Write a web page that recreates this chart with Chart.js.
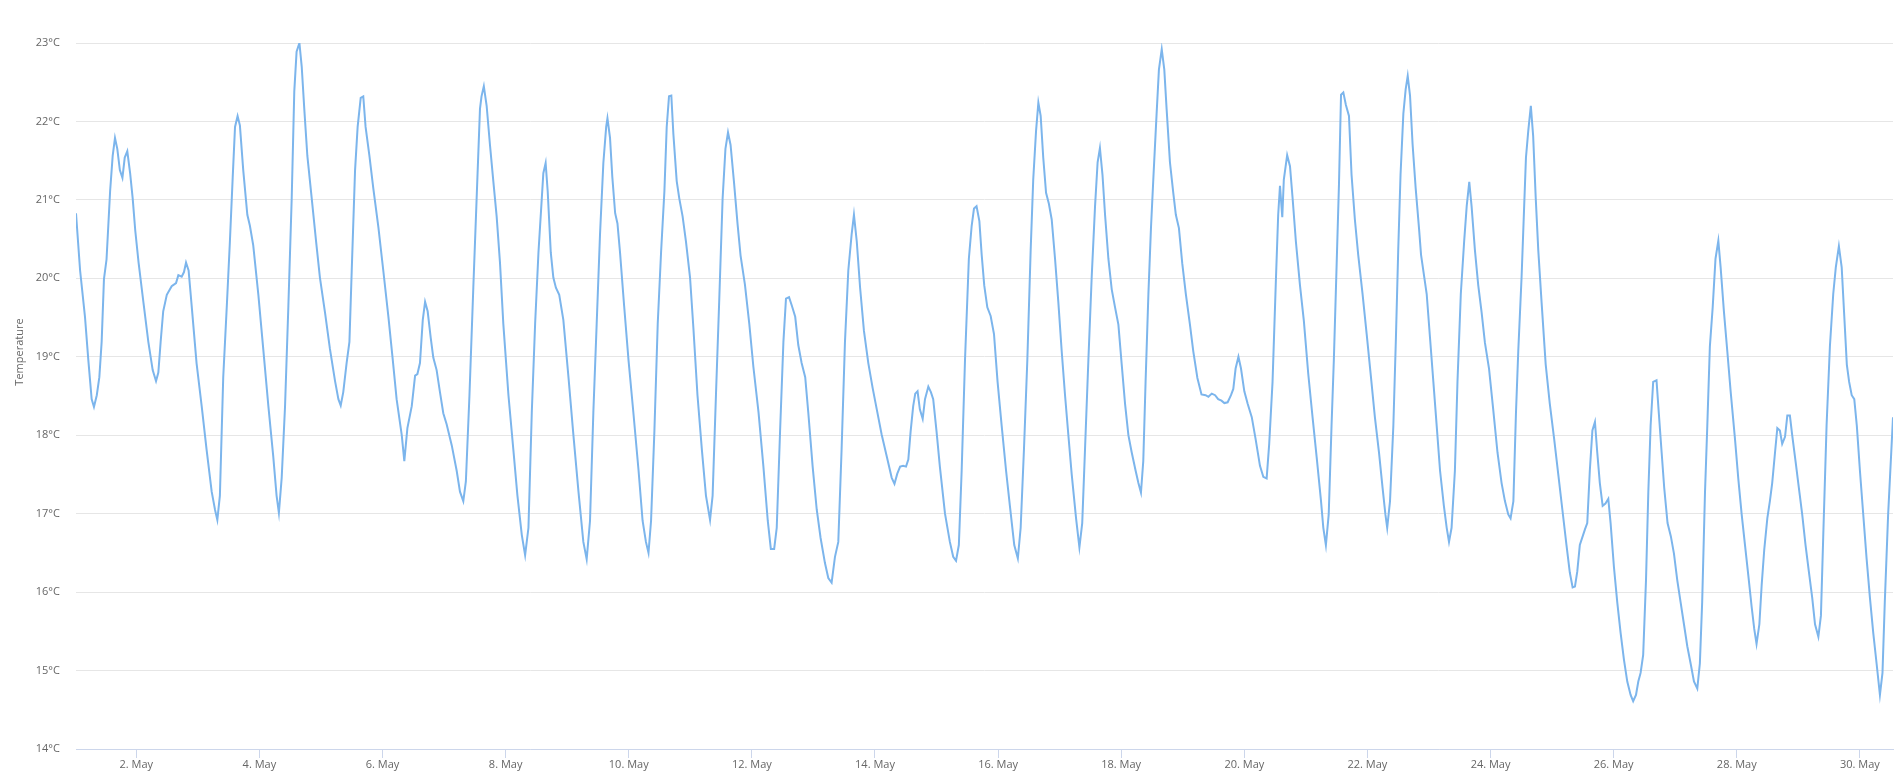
<!DOCTYPE html>
<html>
<head>
<meta charset="utf-8">
<script src="https://cdn.jsdelivr.net/npm/chart.js@4/dist/chart.umd.min.js"></script>
<style>
  html, body { margin: 0; padding: 0; background: #fff; }
  #wrap { width: 1904px; height: 780px; position: relative; }
</style>
</head>
<body>
<div id="wrap"><canvas id="tempChart"></canvas></div>
<script>
// hours since 1 May 00:00
const hours = [
  0.5, 2.1, 4.0, 5.3, 6.6, 7.5, 8.6, 9.6, 10.5, 11.4,
  12.4, 13.8, 14.8, 15.7, 16.6, 17.6, 18.6, 19.5, 20.5, 21.6,
  22.6, 23.6, 24.9, 26.8, 28.7, 30.4, 31.7, 32.6, 33.5, 34.5,
  35.9, 37.8, 39.5, 40.4, 41.7, 42.6, 43.4, 44.4, 45.6, 47.5,
  49.5, 51.4, 53.4, 54.7, 55.6, 56.6, 57.9, 59.3, 60.5, 61.6,
  62.5, 63.5, 64.4, 65.7, 67.3, 68.3, 69.6, 71.6, 73.5, 75.5,
  77.4, 78.7, 79.6, 80.7, 82.0, 83.3, 84.6, 85.6, 86.5, 87.6,
  88.5, 89.5, 90.7, 92.4, 94.1, 95.6, 97.6, 99.5, 101.5, 102.8,
  103.7, 104.7, 106.0, 107.1, 108.0, 109.3, 110.3, 111.5, 112.5, 113.4,
  114.9, 116.4, 118.4, 120.3, 122.3, 124.0, 125.5, 127.5, 128.5, 129.7,
  131.4, 132.7, 133.6, 134.6, 135.7, 136.6, 137.6, 138.8, 139.8, 141.1,
  142.4, 143.7, 145.0, 147.0, 148.9, 150.2, 151.5, 152.5, 153.9, 155.4,
  156.7, 158.0, 158.6, 159.5, 160.6, 161.9, 163.2, 164.5, 165.8, 167.1,
  169.1, 171.0, 172.6, 174.3, 175.6, 176.9, 178.2, 179.5, 180.8, 182.1,
  182.7, 183.6, 184.4, 185.6, 186.6, 187.6, 188.9, 190.5, 192.5, 194.4,
  196.4, 198.3, 199.6, 200.9, 202.2, 203.5, 204.8, 206.1, 207.2, 207.7,
  208.7, 209.6, 210.7, 211.6, 212.6, 214.2, 215.9, 217.8, 219.8, 221.4,
  222.7, 223.7, 224.7, 226.0, 227.3, 228.6, 229.9, 230.8, 231.7, 232.6,
  233.4, 234.7, 235.7, 237.0, 238.3, 239.9, 241.2, 242.8, 244.5, 246.1,
  247.7, 248.7, 250.0, 251.3, 252.6, 253.7, 254.7, 255.7, 257.0, 258.4,
  259.6, 261.3, 263.0, 264.6, 266.6, 268.5, 270.2, 271.4, 272.7, 273.7,
  275.0, 276.3, 277.3, 278.5, 279.6, 280.9, 282.1, 283.4, 284.8, 286.0,
  287.7, 289.3, 290.8, 292.5, 293.8, 295.1, 296.4, 297.7, 299.0, 300.3,
  301.6, 302.9, 303.8, 304.9, 306.2, 307.7, 309.4, 311.1, 312.7, 314.6,
  316.6, 318.5, 319.6, 320.7, 321.8, 323.0, 324.1, 325.0, 325.9, 326.9,
  327.7, 328.6, 329.5, 330.6, 331.5, 332.8, 333.8, 334.7, 336.0, 337.3,
  339.3, 341.2, 342.5, 343.6, 344.7, 345.8, 347.1, 348.6, 349.7, 350.6,
  351.6, 352.7, 353.6, 354.6, 355.8, 357.1, 358.4, 359.8, 361.4, 363.1,
  364.6, 366.3, 367.7, 368.8, 370.1, 371.4, 372.7, 373.7, 374.8, 375.7,
  376.6, 377.6, 378.7, 379.8, 380.9, 382.2, 383.5, 384.8, 386.1, 387.4,
  388.7, 390.4, 391.7, 392.8, 393.9, 395.2, 396.5, 397.8, 398.8, 399.7,
  400.7, 401.7, 403.0, 404.3, 405.6, 406.9, 408.2, 409.5, 410.8, 412.1,
  413.6, 414.7, 415.7, 416.6, 417.5, 418.6, 419.6, 420.6, 421.8, 422.7,
  423.8, 424.8, 425.7, 427.0, 428.3, 429.3, 430.5, 431.8, 433.2, 434.8,
  436.1, 437.7, 439.3, 440.9, 442.0, 443.3, 444.6, 445.8, 447.1, 448.2,
  449.5, 450.8, 451.7, 452.6, 453.7, 454.7, 456.0, 457.3, 458.9, 460.4,
  462.1, 463.4, 464.7, 465.7, 467.0, 468.3, 469.2, 469.9, 470.8, 471.4,
  472.7, 473.8, 474.8, 476.1, 477.7, 479.2, 480.9, 482.6, 484.2, 485.9,
  486.8, 487.8, 488.9, 490.0, 490.9, 492.0, 492.9, 493.7, 494.6, 495.6,
  496.8, 497.8, 499.1, 500.4, 502.1, 503.7, 505.4, 506.9, 508.5, 509.9,
  511.0, 511.7, 512.8, 514.1, 515.1, 516.0, 516.9, 518.0, 518.9, 519.7,
  520.6, 521.6, 522.8, 524.1, 524.9, 527.1, 528.4, 529.7, 531.0, 532.3,
  533.8, 534.9, 535.8, 536.8, 538.1, 539.1, 540.4, 541.7, 542.7, 543.7,
  544.6, 545.9, 547.2, 548.5, 549.8, 551.4, 553.0, 554.7, 556.3, 557.6,
  558.9, 559.8, 560.9, 561.9, 562.8, 564.1, 565.1, 565.8, 566.7, 567.7,
  568.6, 569.6, 570.6, 571.9, 573.5, 575.1, 576.8, 578.4, 580.0, 581.6,
  582.9, 584.0, 584.9, 585.8, 586.8, 587.9, 588.8, 589.7, 590.7, 591.7,
  592.7, 593.6, 594.6, 595.7, 596.8, 597.9, 598.8, 600.1, 601.4, 602.7,
  604.0, 605.3, 606.6, 607.6, 608.7, 609.6, 610.5, 611.5, 612.6, 613.5,
  614.4, 615.4, 616.7, 617.6, 618.7, 619.7, 621.0, 622.3, 623.5, 624.8,
  626.1, 627.4, 628.7, 630.0, 631.3, 632.6, 633.6, 634.5, 635.6, 636.5,
  637.5, 638.6, 639.7, 640.8, 641.7, 643.0, 644.3, 645.6, 647.3, 648.6,
  649.9, 651.2, 652.5, 653.8, 654.8, 655.7, 656.8, 657.7, 658.7, 659.9,
  660.9, 661.8, 662.9, 663.8, 664.8, 665.7, 666.8, 667.7, 668.7, 669.6,
  670.9, 672.2, 673.5, 674.8, 676.1, 677.4, 678.5, 679.8, 680.8, 681.7,
  683.0, 684.3, 685.6, 686.6, 687.8, 688.9, 689.9, 690.9, 691.8, 692.8,
  693.8, 694.8, 696.0, 697.3, 698.6, 699.9, 701.2, 702.5, 703.8, 704.8,
  705.7, 707.0, 708.9
];

const temps = [
  20.83, 20.10, 19.51, 18.96, 18.46, 18.36, 18.51, 18.74, 19.19, 19.99,
  20.24, 21.11, 21.56, 21.79, 21.65, 21.38, 21.28, 21.54, 21.62, 21.34,
  21.02, 20.61, 20.20, 19.69, 19.19, 18.83, 18.69, 18.80, 19.19, 19.58,
  19.79, 19.90, 19.94, 20.04, 20.02, 20.08, 20.20, 20.10, 19.65, 18.92,
  18.37, 17.82, 17.28, 17.05, 16.92, 17.23, 18.74, 19.65, 20.47, 21.29,
  21.93, 22.07, 21.95, 21.38, 20.81, 20.67, 20.42, 19.79, 19.10, 18.37,
  17.73, 17.23, 17.01, 17.46, 18.37, 19.65, 21.02, 22.38, 22.89, 23.00,
  22.70, 22.16, 21.56, 21.02, 20.47, 20.01, 19.56, 19.10, 18.69, 18.46,
  18.38, 18.55, 18.92, 19.19, 20.10, 21.38, 21.93, 22.30, 22.32, 21.93,
  21.56, 21.15, 20.65, 20.10, 19.51, 18.96, 18.46, 18.00, 17.67, 18.09,
  18.37, 18.76, 18.78, 18.92, 19.47, 19.70, 19.58, 19.24, 18.99, 18.83,
  18.55, 18.28, 18.14, 17.87, 17.55, 17.28, 17.16, 17.41, 18.51, 19.88,
  21.02, 22.16, 22.32, 22.45, 22.20, 21.70, 21.24, 20.79, 20.20, 19.42,
  18.51, 17.82, 17.23, 16.73, 16.47, 16.82, 18.29, 19.42, 20.33, 21.02,
  21.34, 21.47, 21.11, 20.33, 20.01, 19.88, 19.79, 19.47, 18.74, 18.01,
  17.28, 16.64, 16.42, 16.91, 18.29, 19.42, 20.56, 21.47, 21.93, 22.04,
  21.79, 21.29, 20.83, 20.70, 20.33, 19.65, 18.96, 18.29, 17.56, 16.91,
  16.64, 16.50, 16.91, 18.05, 19.42, 20.33, 21.11, 21.93, 22.32, 22.33,
  21.84, 21.24, 21.02, 20.79, 20.47, 20.01, 19.37, 18.51, 17.82, 17.23,
  16.92, 17.23, 18.51, 19.74, 21.02, 21.65, 21.86, 21.70, 21.24, 20.70,
  20.29, 19.92, 19.42, 18.87, 18.29, 17.60, 16.91, 16.55, 16.55, 16.82,
  18.05, 19.19, 19.74, 19.76, 19.65, 19.51, 19.15, 18.92, 18.74, 18.29,
  17.60, 17.05, 16.69, 16.37, 16.18, 16.12, 16.45, 16.64, 17.83, 19.19,
  20.10, 20.56, 20.81, 20.47, 19.88, 19.33, 18.92, 18.60, 18.33, 18.01,
  17.73, 17.46, 17.38, 17.51, 17.60, 17.61, 17.60, 17.69, 18.05, 18.37,
  18.53, 18.56, 18.33, 18.21, 18.46, 18.62, 18.55, 18.46, 18.05, 17.60,
  17.00, 16.64, 16.45, 16.40, 16.60, 17.55, 18.96, 20.25, 20.67, 20.89,
  20.92, 20.73, 20.30, 19.91, 19.63, 19.52, 19.29, 18.68, 18.12, 17.55,
  17.10, 16.60, 16.43, 16.82, 17.83, 18.96, 20.36, 21.26, 21.88, 22.24,
  22.07, 21.54, 21.09, 20.95, 20.75, 20.25, 19.69, 19.07, 18.51, 18.00,
  17.50, 16.94, 16.57, 16.88, 17.83, 18.96, 20.02, 20.92, 21.48, 21.66,
  21.32, 20.81, 20.25, 19.86, 19.63, 19.41, 18.90, 18.40, 18.00, 17.78,
  17.55, 17.39, 17.27, 17.67, 18.68, 19.80, 20.64, 21.32, 22.10, 22.66,
  22.92, 22.66, 22.16, 21.48, 21.09, 20.81, 20.64, 20.19, 19.80, 19.41,
  19.07, 18.73, 18.52, 18.51, 18.49, 18.53, 18.51, 18.46, 18.44, 18.41,
  18.42, 18.51, 18.59, 18.85, 19.00, 18.85, 18.56, 18.40, 18.23, 17.95,
  17.61, 17.47, 17.45, 17.89, 18.68, 19.97, 20.81, 21.18, 20.78, 21.26,
  21.57, 21.43, 21.03, 20.47, 19.91, 19.46, 18.79, 18.23, 17.72, 17.16,
  16.82, 16.60, 16.99, 18.12, 18.96, 20.19, 21.20, 22.34, 22.37, 22.21,
  22.07, 21.32, 20.75, 20.30, 19.80, 19.29, 18.73, 18.23, 17.78, 17.33,
  16.99, 16.82, 17.16, 18.12, 19.24, 20.36, 21.32, 22.10, 22.41, 22.58,
  22.33, 21.71, 21.15, 20.64, 20.30, 19.80, 19.24, 18.68, 18.12, 17.55,
  17.10, 16.82, 16.64, 16.82, 17.55, 18.68, 19.80, 20.47, 20.92, 21.23,
  20.92, 20.36, 19.91, 19.57, 19.18, 18.85, 18.34, 17.78, 17.39, 17.16,
  16.99, 16.94, 17.16, 18.28, 19.07, 20.02, 20.92, 21.54, 21.88, 22.20,
  21.82, 21.03, 20.36, 19.69, 18.90, 18.40, 17.95, 17.50, 17.05, 16.60,
  16.25, 16.06, 16.07, 16.26, 16.60, 16.71, 16.80, 16.88, 17.55, 18.06,
  18.17, 17.78, 17.39, 17.10, 17.13, 17.19, 16.88, 16.32, 15.87, 15.48,
  15.14, 14.86, 14.69, 14.61, 14.69, 14.86, 14.97, 15.20, 16.15, 17.27,
  18.12, 18.68, 18.70, 18.28, 17.78, 17.33, 16.88, 16.71, 16.49, 16.15,
  15.87, 15.59, 15.31, 15.09, 14.86, 14.77, 15.09, 15.87, 17.27, 18.12,
  19.13, 19.63, 20.25, 20.48, 20.14, 19.57, 19.07, 18.56, 17.95, 17.44,
  16.99, 16.60, 16.21, 15.81, 15.53, 15.34, 15.59, 16.09, 16.54, 16.94,
  17.16, 17.39, 17.78, 18.09, 18.06, 17.89, 17.98, 18.25, 18.25, 18.00,
  17.67, 17.33, 16.99, 16.60, 16.26, 15.93, 15.59, 15.43, 15.70, 16.71,
  18.12, 19.13, 19.80, 20.14, 20.41, 20.14, 19.52, 18.90, 18.68, 18.51,
  18.46, 18.12, 17.55, 16.99, 16.43, 15.93, 15.48, 15.09, 14.69, 14.97,
  15.87, 16.99, 18.23
];

// days of May that get an axis label
const tickDays = [2, 4, 6, 8, 10, 12, 14, 16, 18, 20, 22, 24, 26, 28, 30];
const tempMin = 14;
const tempMax = 23;
const axisTitle = 'Temperature';

const points = hours.map((h, i) => ({ x: h, y: temps[i] }));
const labelFont = { family: "'Open Sans', sans-serif", size: 11 };

// y axis title sits a bit above the plot centre in the original, so draw it by hand
const yTitlePlugin = {
    id: 'yTitle',
    afterDraw(chart) {
        const ctx = chart.ctx;
        ctx.save();
        ctx.translate(20, 352);
        ctx.rotate(-Math.PI / 2);
        ctx.font = "11px 'Open Sans', sans-serif";
        ctx.fillStyle = '#666666';
        ctx.textAlign = 'center';
        ctx.textBaseline = 'middle';
        ctx.fillText(axisTitle, 0, 0);
        ctx.restore();
    }
};

new Chart(document.getElementById('tempChart'), {
    type: 'line',
    data: {
        datasets: [{
            label: axisTitle,
            data: points,
            borderColor: '#7cb5ec',
            backgroundColor: '#7cb5ec',
            borderWidth: 2,
            pointRadius: 0,
            tension: 0,
            fill: false
        }]
    },
    options: {
        responsive: true,
        maintainAspectRatio: false,
        animation: false,
        layout: {
            padding: { top: 43, right: 11, bottom: 0, left: 0 }
        },
        scales: {
            x: {
                type: 'linear',
                min: hours[0],
                max: hours[hours.length - 1],
                afterBuildTicks: function(scale) {
                    scale.ticks = tickDays.map(d => ({ value: (d - 1) * 24 }));
                },
                afterFit: function(scale) {
                    scale.height = 31;
                },
                grid: {
                    drawOnChartArea: false,
                    drawTicks: true,
                    tickLength: 9,
                    color: '#ccd6eb'
                },
                border: { color: '#ccd6eb' },
                ticks: {
                    autoSkip: false,
                    maxRotation: 0,
                    padding: 0,
                    color: '#666666',
                    font: labelFont,
                    callback: function(value) {
                        return (Math.round(value / 24) + 1) + '. May';
                    }
                }
            },
            y: {
                min: tempMin,
                max: tempMax,
                afterFit: function(scale) {
                    scale.width = 76;
                },
                grid: {
                    color: '#e6e6e6',
                    drawTicks: false
                },
                border: { display: false },
                ticks: {
                    stepSize: 1,
                    padding: 16,
                    color: '#666666',
                    font: labelFont,
                    callback: function(value) {
                        return value + '°C';
                    }
                }
            }
        },
        plugins: {
            legend: { display: false },
            tooltip: { enabled: false }
        }
    },
    plugins: [yTitlePlugin]
});
</script>
</body>
</html>
